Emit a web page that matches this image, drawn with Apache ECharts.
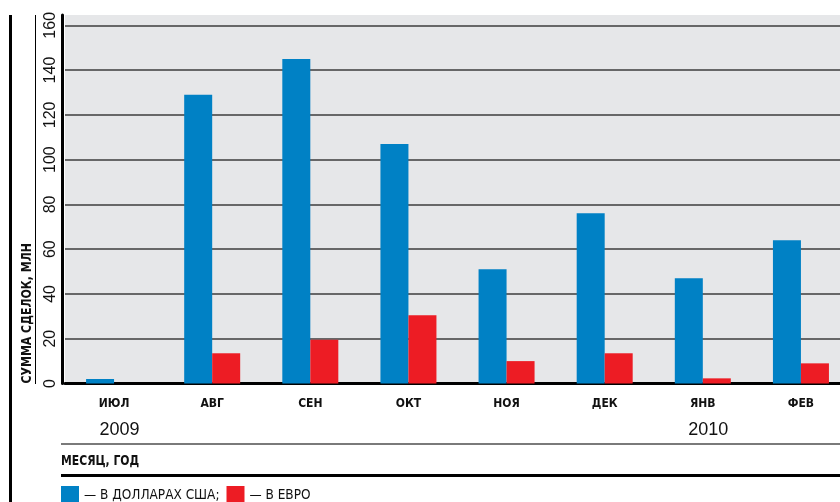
<!DOCTYPE html>
<html>
<head>
<meta charset="utf-8">
<script src="https://cdn.jsdelivr.net/npm/echarts@6/dist/echarts.min.js"></script>
<style>
  html, body { margin: 0; padding: 0; background: #fff; overflow: hidden; }
  #chart { width: 850px; height: 502px; }
</style>
</head>
<body>
<div id="chart"></div>
<script>
// Monthly deal totals, millions
const months = ['ИЮЛ', 'АВГ', 'СЕН', 'ОКТ', 'НОЯ', 'ДЕК', 'ЯНВ', 'ФЕВ'];
const years = ['2009', '', '', '', '', '', '2010', ''];
const usdValues = [2, 129, 145, 107, 51, 76, 47, 64];
const eurValues = [0, 13.5, 19.5, 30.5, 10, 13.5, 2.3, 9];
const yTicks = [0, 20, 40, 60, 80, 100, 120, 140, 160];

const usdName = '— В ДОЛЛАРАХ США;';
const eurName = '— В ЕВРО';

const narrow = "'Liberation Sans Narrow', 'DejaVu Sans Condensed', sans-serif";
const plain = "'Liberation Sans', Arial, sans-serif";

const chart = echarts.init(document.getElementById('chart'), null, { renderer: 'canvas' });

chart.setOption({
  animation: false,
  backgroundColor: '#ffffff',
  grid: {
    left: 65, right: 0, top: 15, bottom: 118.5,
    show: true, backgroundColor: '#e6e7e9', borderWidth: 0
  },
  legend: {
    left: 61, top: 486, padding: 0,
    icon: 'rect', itemWidth: 18, itemHeight: 18, itemGap: 7,
    data: [usdName, eurName],
    textStyle: { fontFamily: narrow, fontSize: 13.5, color: '#111' }
  },
  xAxis: [
    {
      type: 'category',
      data: months,
      axisLine: { show: true, lineStyle: { color: '#000', width: 3 } },
      axisTick: { show: false },
      axisLabel: {
        margin: 14, color: '#111',
        fontFamily: narrow, fontWeight: 'bold', fontSize: 12
      },
      splitLine: { show: false }
    },
    {
      type: 'category',
      data: years,
      position: 'bottom',
      axisLine: { show: false },
      axisTick: { show: false },
      axisLabel: {
        margin: 38, interval: 0,
        formatter: v => v ? '{y|' + v + '}' : '',
        rich: { y: { fontFamily: plain, fontSize: 18, color: '#111', padding: [0, 0, 0, 11] } }
      },
      splitLine: { show: false }
    }
  ],
  yAxis: {
    type: 'value',
    min: 0, max: 164.6, interval: 20,
    offset: 2.5,
    axisLine: { show: true, lineStyle: { color: '#000', width: 3 } },
    axisTick: { show: false },
    axisLabel: {
      rotate: 90, margin: 4, showMaxLabel: false,
      fontFamily: plain, fontSize: 16, color: '#111',
      formatter: v => yTicks.indexOf(v) >= 0 ? String(v) : ''
    },
    splitLine: {
      show: true, showMinLine: false, showMaxLine: false,
      lineStyle: { color: '#3c3c3c', width: 1.5 }
    }
  },
  series: [
    {
      name: usdName, type: 'bar', data: usdValues,
      barWidth: 28, barGap: '0%',
      itemStyle: { color: '#0081c5' }
    },
    {
      name: eurName, type: 'bar', data: eurValues,
      barWidth: 28, barGap: '0%',
      itemStyle: { color: '#ed1c24' }
    }
  ],
  graphic: [
    // frame rules
    { type: 'line', shape: { x1: 10.5, y1: 15, x2: 10.5, y2: 502 }, style: { stroke: '#000', lineWidth: 3 } },
    { type: 'line', shape: { x1: 35.5, y1: 15, x2: 35.5, y2: 384 }, style: { stroke: '#000', lineWidth: 1 } },
    { type: 'line', shape: { x1: 61, y1: 444, x2: 850, y2: 444 }, style: { stroke: '#7a7a7a', lineWidth: 2 } },
    { type: 'line', shape: { x1: 61, y1: 475.5, x2: 850, y2: 475.5 }, style: { stroke: '#000', lineWidth: 3 } },
    // axis titles
    {
      type: 'text', x: 27.5, y: 383.5, rotation: Math.PI / 2, scaleX: 0.87,
      style: {
        text: 'СУММА СДЕЛОК, МЛН', fill: '#111',
        font: "bold 14px 'Liberation Sans Narrow', 'DejaVu Sans Condensed', sans-serif",
        align: 'left', verticalAlign: 'middle'
      }
    },
    {
      type: 'text', x: 61, y: 461, scaleX: 0.86,
      style: {
        text: 'МЕСЯЦ, ГОД', fill: '#111',
        font: "bold 14px 'Liberation Sans Narrow', 'DejaVu Sans Condensed', sans-serif",
        align: 'left', verticalAlign: 'middle'
      }
    }
  ]
});
</script>
</body>
</html>
